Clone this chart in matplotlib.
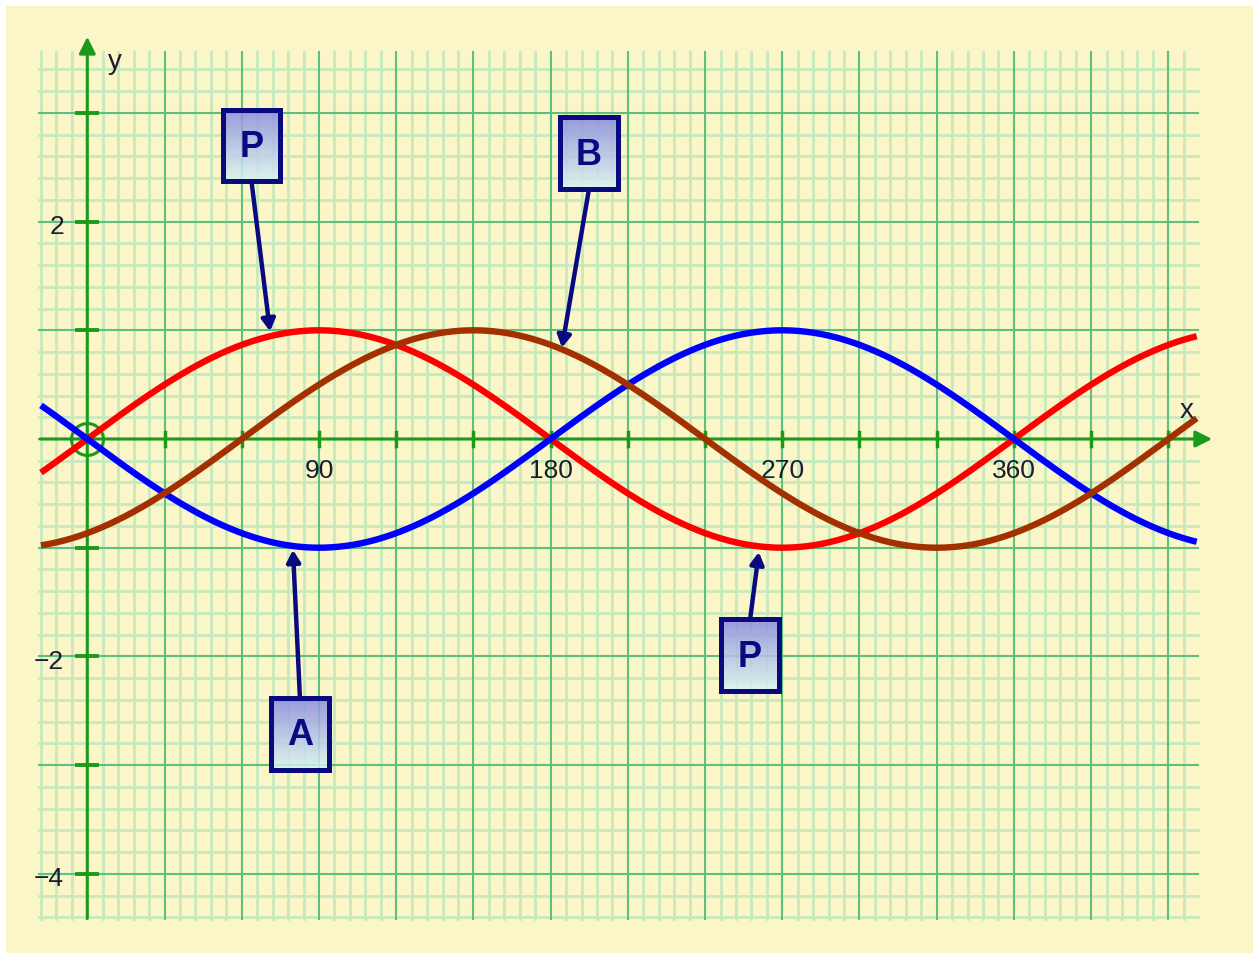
import numpy as np
import matplotlib.pyplot as plt
from matplotlib.patches import Rectangle

plt.rcParams['font.family'] = ['Liberation Sans', 'DejaVu Sans']

# curves: y = sin(x - phase), x in degrees
curve_phase = [0, 180, 60]          # P (red), A (blue), B (brown)
curve_colors = ["#ff0000", "#0000ff", "#a33000"]
x_first, x_last = -18, 431

x_tick_values = [90, 180, 270, 360]
y_tick_values = [2, -2, -4]

# callout boxes: label, arrow tip on curve, box centre
box_labels = ["P", "B", "A", "P"]
tip_x = [71.0, 184.4, 79.9, 260.9]
tip_y = [0.99, 0.84, -1.02, -1.04]
box_x = [63.8, 194.9, 82.6, 257.5]
box_y = [2.70, 2.63, -2.71, -1.99]

BG = "#faf6c8"
AX_GREEN = "#1a9a1a"
MAJOR = "#5cc07e"
MINOR = "#c8e9bd"
NAVY = "#0a0a80"

fig = plt.figure(figsize=(12.53, 9.54), dpi=100, facecolor="white")
ax = fig.add_axes([6 / 1253, 0, 1 - 6 / 1253, 1 - 7 / 954], facecolor=BG)
ax.set_axis_off()
ax.add_patch(Rectangle((0, 0), 1, 1, transform=ax.transAxes, color=BG, zorder=0))

# grid: minor every 6 deg / 0.2, major every 30 deg / 1
gx_lo, gx_hi = -18.6, 431.5
gy_lo, gy_hi = -4.42, 3.56
for v in np.arange(-18, 427, 6):
    major = (v % 30 == 0)
    ax.plot([v, v], [gy_lo, gy_hi], color=MAJOR if major else MINOR,
            lw=1.5 if major else 2.0, zorder=2 if major else 1)
for k in range(-22, 18):
    h = k / 5
    major = (k % 5 == 0)
    ax.plot([gx_lo, gx_hi], [h, h], color=MAJOR if major else MINOR,
            lw=1.5 if major else 2.0, zorder=2 if major else 1)

# axes with arrows
ax.annotate("", xy=(437, 0), xytext=(-18.3, 0),
            arrowprops=dict(arrowstyle="-|>,head_length=0.5,head_width=0.25",
                            color=AX_GREEN, lw=2.2, mutation_scale=20,
                            shrinkA=0, shrinkB=0), zorder=3)
ax.annotate("", xy=(0, 3.7), xytext=(0, -4.41),
            arrowprops=dict(arrowstyle="-|>,head_length=0.5,head_width=0.25",
                            color=AX_GREEN, lw=2.2, mutation_scale=20,
                            shrinkA=0, shrinkB=0), zorder=3)
for t in range(30, 421, 30):
    ax.plot([t, t], [-0.065, 0.065], color=AX_GREEN, lw=2.5, zorder=3)
for t in [-4, -3, -2, -1, 1, 2, 3]:
    ax.plot([-3.9, 3.9], [t, t], color=AX_GREEN, lw=2.8, zorder=3)
ax.plot(0, 0, "o", ms=23, mfc="none", mec=AX_GREEN, mew=2.2, zorder=3)

# tick labels
for v in x_tick_values:
    ax.text(v, -0.285, str(v), ha="center", va="center", fontsize=19,
            color="#1c1c30", zorder=4)
for v in y_tick_values:
    ax.text(-9.0, v - 0.04, str(v).replace("-", "\u2212"), ha="right",
            va="center", fontsize=19, color="#1c1c30", zorder=4)
ax.text(427.2, 0.27, "x", ha="center", va="center", fontsize=20, color="#1c1c30", zorder=6)
ax.text(10.8, 3.48, "y", ha="center", va="center", fontsize=20, color="#1c1c30", zorder=6)

# curves
xs = np.linspace(x_first, x_last, 600)
for ph, c in zip(curve_phase, curve_colors):
    ax.plot(xs, np.sin(np.radians(xs - ph)), color=c, lw=4.6,
            solid_capstyle="butt", zorder=5)

# callouts
bw, bh = 22.5, 0.662
grad = np.zeros((50, 1, 4))
top = np.array([0.54, 0.54, 0.88])
bot = np.array([0.85, 0.96, 0.95])
for i in range(50):
    f = i / 49
    grad[i, 0, :3] = top * (1 - f) + bot * f
    grad[i, 0, 3] = 0.85
for lab, tx, ty, bx, by in zip(box_labels, tip_x, tip_y, box_x, box_y):
    sy = by - bh / 2 if ty < by else by + bh / 2
    ax.annotate("", xy=(tx, ty), xytext=(bx, sy),
                arrowprops=dict(arrowstyle="-|>,head_length=0.35,head_width=0.2",
                                color=NAVY, lw=3.2, mutation_scale=20,
                                shrinkA=0, shrinkB=0), zorder=7)
    ax.imshow(grad, extent=[bx - bw / 2, bx + bw / 2, by - bh / 2, by + bh / 2],
              aspect="auto", interpolation="bilinear", zorder=8)
    ax.add_patch(Rectangle((bx - bw / 2, by - bh / 2), bw, bh, fill=False,
                           ec=NAVY, lw=3.6, zorder=9))
    ax.text(bx, by - 0.01, lab, ha="center", va="center", fontsize=26,
            fontweight="bold", color=NAVY, zorder=10)

ax.set_xlim((6 - 87.3) / 2.574, (1253 - 87.3) / 2.574)
ax.set_ylim(-(954 - 440) / 108.7, (440 - 7) / 108.7)

fig.savefig("out.png", dpi=100, facecolor="white")
